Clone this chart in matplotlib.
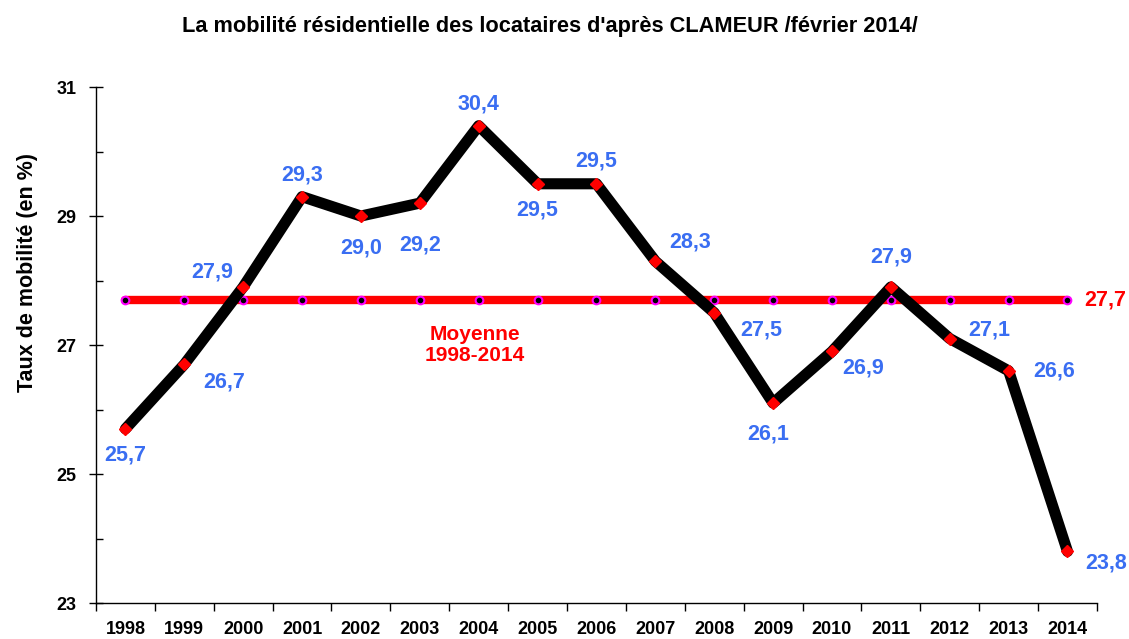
import numpy as np
import matplotlib
matplotlib.use("Agg")
import matplotlib.pyplot as plt
from matplotlib.ticker import FixedLocator

# données CLAMEUR
annees = ['1998', '1999', '2000', '2001', '2002', '2003', '2004', '2005', '2006',
          '2007', '2008', '2009', '2010', '2011', '2012', '2013', '2014']
taux = [25.7, 26.7, 27.9, 29.3, 29.0, 29.2, 30.4, 29.5, 29.5,
        28.3, 27.5, 26.1, 26.9, 27.9, 27.1, 26.6, 23.8]
moyenne = 27.7
graduations = [23, 25, 27, 29, 31]

# décalage des étiquettes (pixels, par rapport au point)
decalages = [(0, -26), (40, -18), (-31, 15), (0, 22), (0, -32), (0, -42),
             (0, 22), (0, -26), (0, 23), (35, 19), (47, -17), (-5, -31),
             (31, -17), (0, 30), (40, 9), (46, 0), (39, -12)]

NARROW = ['Liberation Sans Narrow', 'Liberation Sans', 'DejaVu Sans']
WIDE = ['Liberation Sans', 'DejaVu Sans']
BLEU = '#3A6EF2'

fig = plt.figure(figsize=(11.29, 6.39), dpi=100)
ax = fig.add_axes([0.085, 0.0563, 0.8866, 0.8075])

x = np.arange(len(annees))

# ligne de moyenne
ax.plot(x, [moyenne] * len(x), color='red', lw=6, solid_capstyle='round',
        marker='o', ms=5.5, mfc='black', mec='#FF00FF', mew=1.5, zorder=2)

# courbe principale
ax.plot(x, taux, color='black', lw=8, solid_capstyle='round',
        solid_joinstyle='round', zorder=3)
ax.plot(x, taux, ls='none', marker='D', ms=6.5, mfc='red', mec='red', zorder=4)

for xi, v, (dx, dy) in zip(x, taux, decalages):
    ax.annotate(f'{v:.1f}'.replace('.', ','), (xi, v),
                xytext=(dx * 0.72, dy * 0.72), textcoords='offset points',
                ha='center', va='center', color=BLEU, fontsize=15.5,
                fontweight='bold', family=WIDE)

ax.annotate(f'{moyenne:.1f}'.replace('.', ','), (x[-1], moyenne),
            xytext=(38 * 0.72, 0), textcoords='offset points',
            ha='center', va='center', color='red', fontsize=15.5,
            fontweight='bold', family=WIDE)
ax.text(5.93, 27.0, 'Moyenne\n1998-2014', ha='center', va='center',
        color='red', fontsize=15, fontweight='bold', family=WIDE,
        linespacing=1.1)

ax.set_xlim(-0.5, len(x) - 0.5)
ax.set_ylim(23, 31)

ax.set_xticks(x)
ax.set_xticklabels(annees)
ax.set_xticks(np.arange(-0.5, len(x)), minor=True)
ax.tick_params(axis='x', which='major', length=0, pad=13)
ax.tick_params(axis='x', which='minor', length=6, direction='out', width=1)

ax.yaxis.set_major_locator(FixedLocator(graduations))
ax.yaxis.set_minor_locator(FixedLocator([24, 26, 28, 30]))
ax.tick_params(axis='y', which='major', length=10, direction='inout', width=1, pad=9)
ax.tick_params(axis='y', which='minor', length=5, direction='in', width=1)

for lab in ax.get_xticklabels() + ax.get_yticklabels():
    lab.set_family(NARROW)
    lab.set_fontweight('bold')
    lab.set_fontsize(13)

for s in ['top', 'right']:
    ax.spines[s].set_visible(False)
for s in ['left', 'bottom']:
    ax.spines[s].set_linewidth(1)

ax.set_ylabel('Taux de mobilité (en %)', fontsize=15.5, fontweight='bold',
              family=NARROW, labelpad=14)
ax.yaxis.set_label_coords(-0.058, 0.64)
fig.text(0.487, 0.958, "La mobilité résidentielle des locataires d'après CLAMEUR /février 2014/",
         ha='center', va='center', fontsize=15.7, fontweight='bold', family=NARROW)

fig.savefig('out.png', dpi=100)
